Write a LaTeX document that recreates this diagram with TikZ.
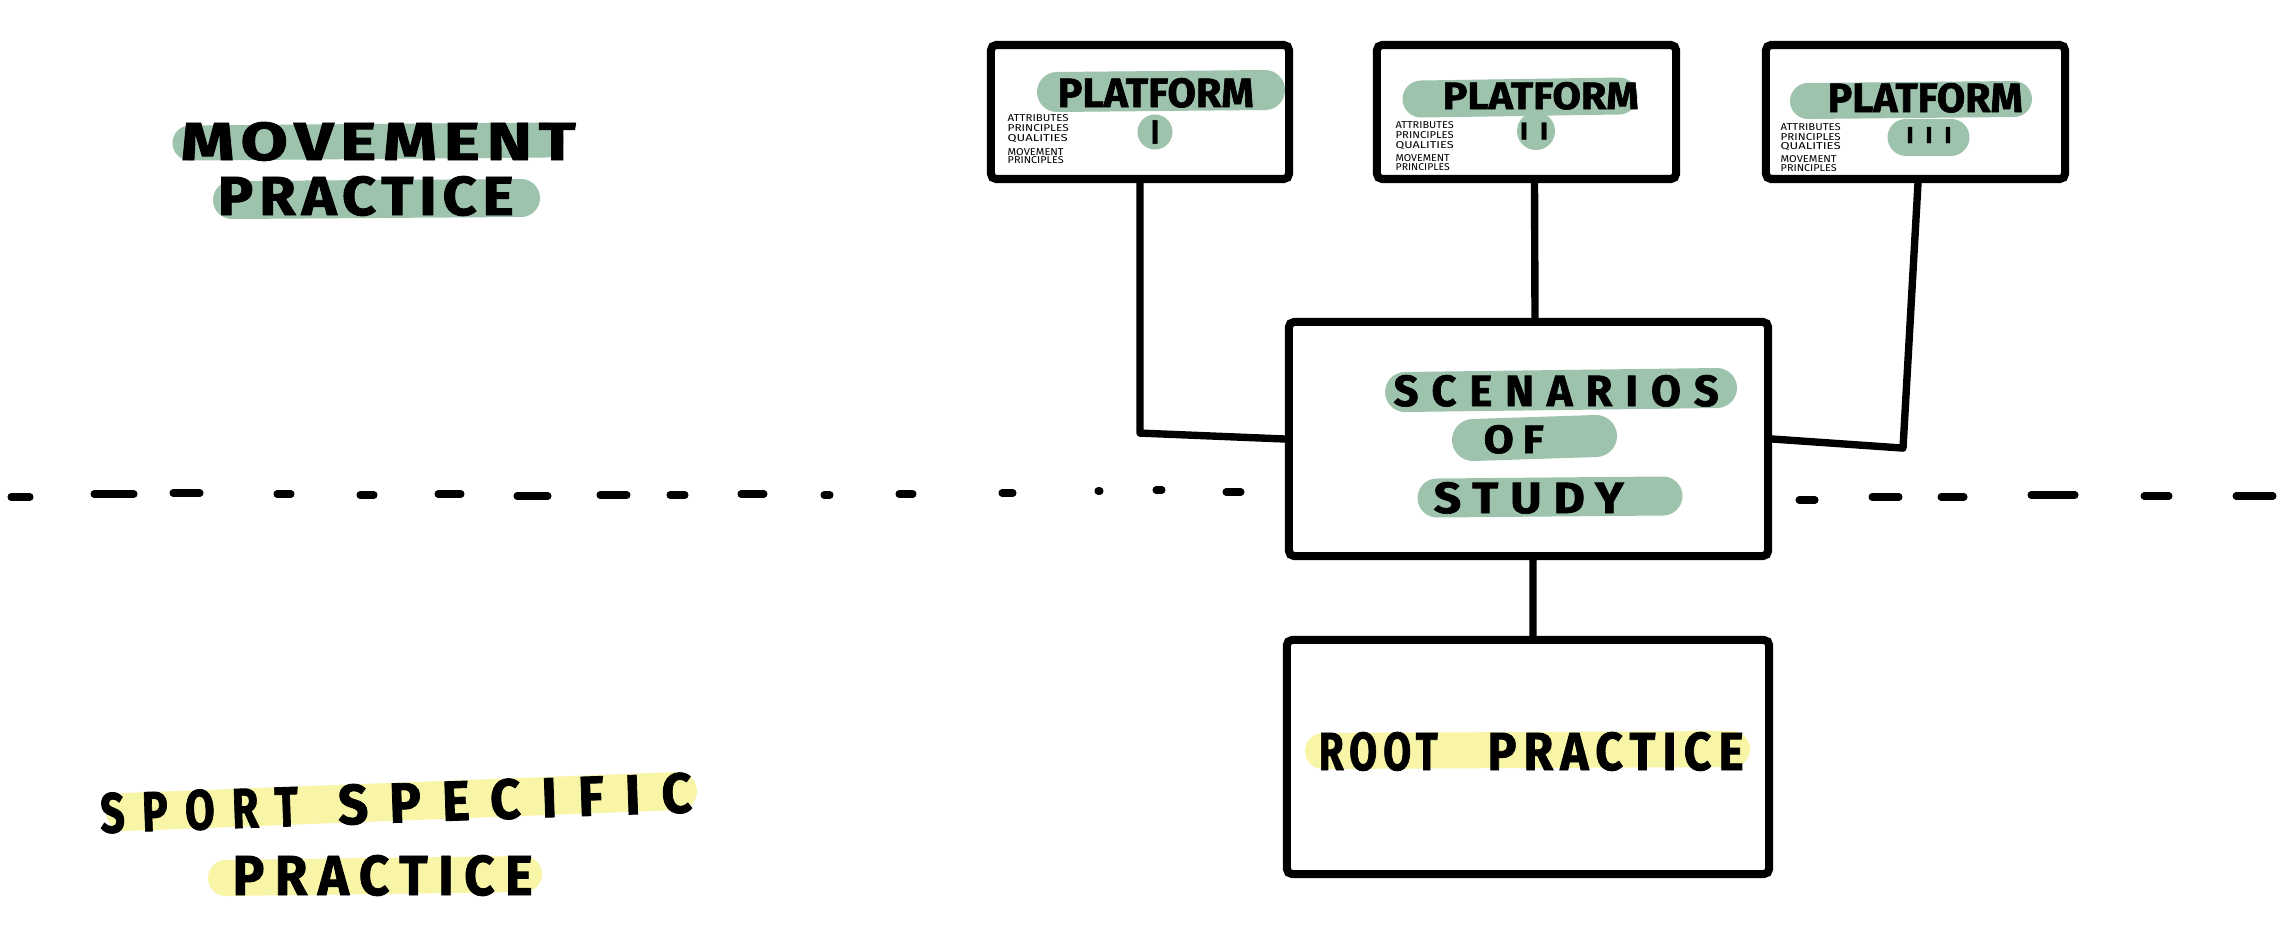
\documentclass[tikz,border=0pt]{standalone}
\usepackage{fontspec}
\usepackage{graphicx}
\newfontfamily\hand{Fira Sans}
\newlength\pxu \setlength\pxu{0.01cm}
\newcommand\hw[4]{\resizebox{#2\pxu}{#3\pxu}{\hand\bfseries\addfontfeature{LetterSpace=#1,FakeBold=1.5}#4}}
\newcommand\hwn[3]{\resizebox{#1\pxu}{#2\pxu}{\hand #3}}
\definecolor{hlgreen}{HTML}{9DC3AD}
\definecolor{hlyellow}{HTML}{F8F6A6}
\begin{document}
\begin{tikzpicture}[x=0.01cm,y=-0.01cm,
  bx/.style={draw=black, line width=2.3pt, rounded corners=1.5pt, inner sep=0pt},
  conn/.style={line width=2.1pt, line cap=round, line join=round},
  hlg/.style={hlgreen, line cap=round, line width=#1*0.01cm},
  hly/.style={hlyellow, line cap=round, line width=#1*0.01cm},
  dashln/.style={line width=2pt, line cap=round},
  txt/.style={inner sep=0pt, anchor=base west}]
\useasboundingbox (0,0) rectangle (2296,948);
\fill[white] (0,0) rectangle (2296,948);

% ---------- highlights ----------
\draw[hlg=35] (190,143) -- (546,140);
\draw[hlg=38] (232,200) -- (521,198);
\draw[hly=38] (125,812) -- (678,791);
\draw[hly=36] (226,878) -- (524,874);
\draw[hlg=40] (1405,392) -- (1717,388);
\draw[hlg=42] (1473,440) -- (1596,436);
\draw[hlg=39] (1437,498) -- (1663,496);
\draw[hly=36] (1323,751) -- (1732,749);
\draw[hlg=40] (1057,92) -- (1265,90);
\draw[hlg=37] (1421,99) -- (1619,96);
\draw[hlg=36] (1808,101) -- (2014,99);
\fill[hlgreen] (1155,132) circle[radius=0.175cm];
\fill[hlgreen] (1536,131) circle[radius=0.19cm];
\draw[hlg=37] (1906,137) -- (1951,137);

% ---------- left labels ----------
\node[txt] (mv1) at (180,160) {\hw{10}{395}{38}{MOVEMENT}};
\node[txt] (mv2) at (217,215) {\hw{10}{296}{39}{PRACTICE}};
\node[inner sep=0pt, rotate=2] (sp1) at (396,803) {\hw{40}{198}{40}{SPORT}\hspace{40\pxu}\hw{40}{354}{40}{SPECIFIC}};
\node[txt] (sp2) at (232,895) {\hw{20}{300}{40}{PRACTICE}};

% ---------- boxes ----------
\node[bx, minimum width=2.98cm, minimum height=1.34cm] (p1) at (1140,112) {};
\node[bx, minimum width=2.99cm, minimum height=1.34cm] (p2) at (1526.5,112) {};
\node[bx, minimum width=2.99cm, minimum height=1.34cm] (p3) at (1915.5,112) {};
\node[bx, minimum width=4.79cm, minimum height=2.34cm] (s) at (1528.5,439) {};
\node[bx, minimum width=4.82cm, minimum height=2.34cm] (r) at (1528,757) {};

% ---------- box texts ----------
\node[txt] (pt1) at (1057,107) {\hw{0}{196}{29}{PLATFORM}};
\node[txt] (pt2) at (1442,109) {\hw{0}{196}{27}{PLATFORM}};
\node[txt] (pt3) at (1827,112) {\hw{0}{195}{29}{PLATFORM}};
\node[inner sep=0pt] (n1) at (1155,132) {\hw{0}{8}{23}{I}};
\node[inner sep=0pt] (n2) at (1534,131) {\hw{0}{28}{17}{I\hspace{0.45em}I}};
\node[inner sep=0pt] (n3) at (1929,135) {\hw{0}{45}{16}{I\hspace{0.5em}I\hspace{0.5em}I}};
\foreach \t/\y/\w [count=\i] in {ATTRIBUTES/121/61, PRINCIPLES/131/61, QUALITIES/141/60, MOVEMENT/155/56, PRINCIPLES/163/56}
  \node[txt] (na\i) at (1007,\y) {\hwn{\w}{7}{\t}};
\foreach \t/\y/\w [count=\i] in {ATTRIBUTES/128/58, PRINCIPLES/138/58, QUALITIES/148/58, MOVEMENT/161/54, PRINCIPLES/170/54}
  \node[txt] (nb\i) at (1395,\y) {\hwn{\w}{7}{\t}};
\foreach \t/\y/\w [count=\i] in {ATTRIBUTES/130/60, PRINCIPLES/140/60, QUALITIES/149/60, MOVEMENT/162/56, PRINCIPLES/171/56}
  \node[txt] (nc\i) at (1780,\y) {\hwn{\w}{7}{\t}};

\node[txt] (sc1) at (1393,406) {\hw{30}{325}{31}{SCENARIOS}};
\node[txt] (sc2) at (1483,453) {\hw{20}{60}{28}{OF}};
\node[txt] (sc3) at (1433,513) {\hw{25}{190}{31}{STUDY}};
\node[txt] (rt) at (1318,770) {\hw{15}{119}{38}{ROOT}\hspace{50\pxu}\hw{15}{256}{38}{PRACTICE}};

% ---------- connectors ----------
\draw[conn] (p1.south) -- ++(0,250) -- (s.west);
\draw[conn] ([xshift=0.08cm]p2.south) -- ([xshift=0.065cm]s.north);
\draw[conn] ([xshift=0.025cm]p3.south) -- ++(-15,265) -- (s.east);
\draw[conn] ([xshift=0.045cm]s.south) -- ([xshift=0.05cm]r.north);

% ---------- dashed divider ----------
\foreach \a/\b/\y in {11/30/497, 94/134/494, 173/200/493, 277/291/494, 360/374/495,
  438/461/494, 517/548/496, 600/627/495, 670/685/495, 741/764/494, 824/830/495,
  899/913/494, 1002/1013/493, 1098/1100/491, 1156/1162/490, 1226/1241/492,
  1799/1815/500, 1872/1899/497, 1941/1964/497, 2031/2075/495, 2144/2169/496, 2236/2273/496}
  \draw[dashln] (\a,\y) -- (\b,\y);
\end{tikzpicture}
\end{document}
